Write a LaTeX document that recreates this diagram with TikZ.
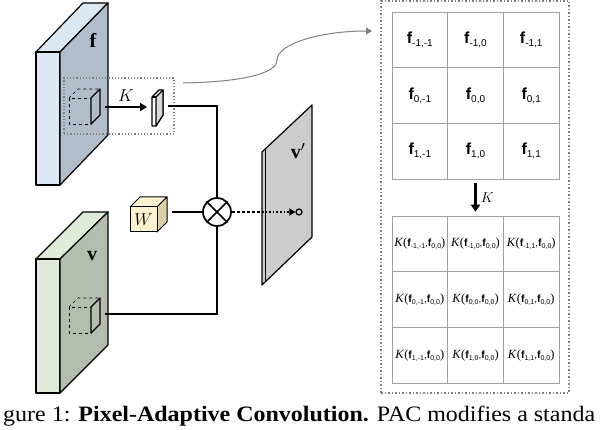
\documentclass[tikz,border=0pt]{standalone}
\usepackage{fontspec}
\setmainfont{Liberation Serif}
\newfontfamily\gridfont{Liberation Sans}
\usepackage{tikz}
\usetikzlibrary{positioning}
\usetikzlibrary{arrows.meta}

\definecolor{ffront}{HTML}{DCE9F5}
\definecolor{fside}{HTML}{B2BDCB}
\definecolor{vfront}{HTML}{E0EBDA}
\definecolor{vside}{HTML}{B4BEAF}
\definecolor{wfront}{HTML}{FDF2D0}
\definecolor{wside}{HTML}{DCD0A8}
\definecolor{outplane}{HTML}{CCCCCC}
\definecolor{gridline}{HTML}{A0A0A0}

\newcommand{\fsub}[2]{{\fontsize{16}{18}\selectfont\bfseries f}\raisebox{-3pt}{\fontsize{10}{12}\selectfont #1,#2}}
\newcommand{\kf}[2]{{\fontsize{10.5}{12}\selectfont\bfseries f}\raisebox{-2pt}{\fontsize{7}{8}\selectfont #1,#2}}
\newcommand{\kentry}[2]{{\rmfamily\fontsize{12.5}{14}\selectfont\textit{K}(}\kf{#1}{#2}{\fontsize{10}{12}\selectfont,}\kf{0}{0}{\rmfamily\fontsize{12.5}{14}\selectfont)}}

\begin{document}
\begin{tikzpicture}[x=1pt,y=-1pt,
  slab/.style={draw, line width=1.2pt, line join=round},
  conn/.style={line width=1.7pt},
  cell/.style={draw=gridline, line width=0.8pt, minimum size=55.7pt, inner sep=0pt, font=\gridfont},
  winbox/.style={draw=gray, dotted, line width=1.2pt, inner sep=0pt}]
\useasboundingbox (0,0) rectangle (606,430);

% guidance slab f
\filldraw[slab, fill=ffront] (36,52) -- (83,3) -- (108,3) -- (60,52) -- cycle;
\filldraw[slab, fill=ffront] (36,52) rectangle (60,185);
\filldraw[slab, fill=fside] (60,52) -- (108,3) -- (108,135) -- (60,185) -- cycle;
\node (flabel) at (93,40) {\fontsize{20}{22}\selectfont\bfseries f};

% patch in f
\begin{scope}[shift={(69,98)}]
  \draw[dashed, line width=0.6pt] (0,0) rectangle (22,26);
  \draw[dashed, line width=0.6pt] (0,0) -- (9,-9) -- (31,-9);
  \filldraw[slab, fill=fside] (22,0) -- (31,-9) -- (31,17) -- (22,26) -- cycle;
\end{scope}

% input slab v
\filldraw[slab, fill=vfront] (36,259) -- (83,212) -- (108,212) -- (60,259) -- cycle;
\filldraw[slab, fill=vfront] (36,259) rectangle (60,393);
\filldraw[slab, fill=vside] (60,259) -- (108,212) -- (108,345) -- (60,393) -- cycle;
\node (vlabel) at (92,256) {\fontsize{20}{22}\selectfont$\mathbf{v}$};

% patch in v
\begin{scope}[shift={(69,307)}]
  \draw[dashed, line width=0.6pt] (0,0) rectangle (22,26);
  \draw[dashed, line width=0.6pt] (0,0) -- (9,-9) -- (31,-9);
  \filldraw[slab, fill=vside] (22,0) -- (31,-9) -- (31,17) -- (22,26) -- cycle;
\end{scope}

% kernel plate
\filldraw[slab, fill=white] (152,97) -- (159,90) -- (163,90) -- (163,115) -- (156,126) -- (152,126) -- cycle;
\filldraw[slab, fill=gray!30] (156,97) -- (163,90) -- (163,115) -- (156,126) -- cycle;
\draw[slab] (152,97) -- (156,97);

% window around patch
\node[winbox, minimum width=110pt, minimum height=56pt] (win) at (119,106) {};

% W cube
\filldraw[slab, line width=1pt, fill=wfront] (130,207) -- (140,197) -- (167,197) -- (157,207) -- cycle;
\filldraw[slab, line width=1pt, fill=wside] (157,207) -- (167,197) -- (167,222) -- (157,232) -- cycle;
\node[draw, line width=1pt, fill=wfront, minimum width=27pt, minimum height=25pt, inner sep=0pt] (wcube) at (143.5,219.5) {\fontsize{16}{18}\selectfont$W$};

% output plane v'
\filldraw[slab, fill=outplane] (262,152) -- (312,105) -- (312,237) -- (262,285) -- cycle;
\draw[line width=0.6pt] (265,149) -- (265,282);
\node (vplabel) at (298,151) {\fontsize{20}{22}\selectfont$\mathbf{v}'$};

% product node
\node[draw, circle, line width=1.7pt, minimum size=28pt, inner sep=0pt] (mul) at (217,212) {};
\draw[conn] (mul.north west) -- (mul.south east);
\draw[conn] (mul.north east) -- (mul.south west);

\coordinate (fout) at (105,107);
\coordinate (kin) at (147,107);
\coordinate (pout) at (168,106);
\coordinate (vout) at (105,314);
\coordinate (wout) at (172,212);
\coordinate (vpin) at (262,212);
\node[draw, circle, line width=1.2pt, minimum size=6pt, inner sep=0pt] (pix) at (299,212) {};

\draw[conn, -{Triangle[length=7pt,width=8pt]}] (fout) -- (kin) node[midway, above=1pt] {\fontsize{16}{18}\selectfont$K$};
\draw[conn] (pout) -| (mul.north);
\draw[conn] (vout) -| (mul.south);
\draw[line width=1.2pt] (wout) -- (mul.west);
\draw[line width=1.4pt, densely dashed] (mul.east) -- (vpin);
\draw[line width=1.6pt, dotted, -{Triangle[length=6pt,width=7pt]}] (vpin) -- (pix.west);

% zoomed view
\node[draw=gray, dotted, line width=1.5pt, minimum width=188pt, minimum height=392pt, inner sep=0pt] (zoombox) at (475,197) {};
\coordinate (curvein) at (183,83);
\coordinate (curveout) at (372,31);
\draw[gray, line width=1pt, -{Triangle[length=6pt,width=7pt]}] (curvein) .. controls (240,82) and (277,74) .. (277,60) .. controls (277,44) and (320,31) .. (curveout);

% upper grid of guidance features
\foreach \r/\a in {0/-1,1/0,2/1}
  \foreach \c/\b in {0/-1,1/0,2/1}
    \node[cell] (f-\r-\c) at (419.8+55.7*\c, 39.8+55.7*\r) {\fsub{\a}{\b}};

% lower grid of kernel values
\foreach \r/\a in {0/-1,1/0,2/1}
  \foreach \c/\b in {0/-1,1/0,2/1}
    \node[cell] (k-\r-\c) at (419.8+55.7*\c, 244+55.7*\r) {\kentry{\a}{\b}};

\draw[line width=2.2pt, -{Triangle[length=7pt,width=9pt]}, shorten <=4pt, shorten >=4pt] (f-2-1.south) -- (k-0-1.north) node[midway, right=1pt] {\fontsize{15}{16}\selectfont$K$};

% caption
\node[anchor=base west, inner sep=0pt, xscale=1.09, transform shape] (caption) at (3,422) {\fontsize{22}{24}\selectfont gure 1: \textbf{Pixel-Adaptive Convolution.} PAC modifies a standa};
\end{tikzpicture}
\end{document}
